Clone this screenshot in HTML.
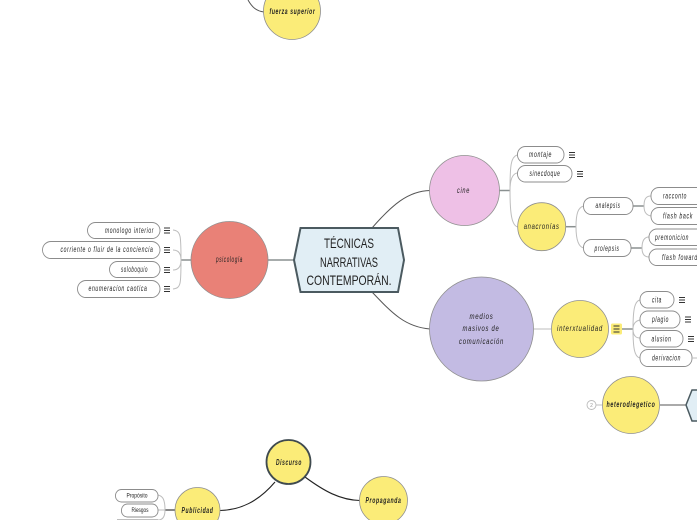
<!DOCTYPE html>
<html lang="es"><head><meta charset="utf-8">
<style>
html,body{margin:0;padding:0;background:#fff;width:697px;height:520px;overflow:hidden}
svg{display:block}
text{font-family:"Liberation Sans",sans-serif;font-style:italic;fill:#222;text-anchor:middle;font-size:8px;letter-spacing:1px}
.p{fill:#fff;stroke:#8c8c8c;stroke-width:.9}
.c{stroke:#8f8f8f;stroke-width:.8}
.l{fill:none;stroke:#bdbdbd;stroke-width:1}
.m{fill:none;stroke:#8a9090;stroke-width:1.5}
.d{fill:none;stroke:#555;stroke-width:1}
.k{fill:none;stroke:#222;stroke-width:1.1}
.h{stroke:#333;stroke-width:.9}
.y{fill:#FBEC78}
</style></head><body>
<svg width="697" height="520" viewBox="0 0 697 520" xmlns="http://www.w3.org/2000/svg">
<!-- connectors -->
<path class="d" d="M372 228C392 205 408 191 430 190.500"/>
<path class="d" d="M372 292C392 313 405 327 430 329"/>
<path class="m" d="M268 260H294"/>
<path class="m" d="M181 260H191"/>
<path class="l" d="M173 230C181 231 181 236 181 260C181 284 181 288 173 289M173 250C179 250 181 254 181 260M173 270C179 270 181 266 181 260"/>
<path class="m" d="M499 190.500H510"/>
<path class="l" d="M517 155C511 157 510 165 510 190.500C510 215 512 226 518 227M517 173C512 174 510 180 510 190.500"/>
<path class="m" d="M565 226.700H576"/>
<path class="l" d="M584 206C578 207 576 214 576 226.700C576 238 578 247 584 248"/>
<path class="m" d="M633 206H644"/><path class="l" d="M651 196C646 196 644 199 644 206C644 212 646 215 651 216"/>
<path class="m" d="M631 248H642"/><path class="l" d="M649 237C644 237 642 241 642 248C642 254 644 257 649 257"/>
<path class="l" d="M534 329H551"/>
<path class="m" d="M622 329H633"/>
<path class="l" d="M640 300C635 301 633 308 633 329C633 350 635 357 640 358M640 320C635 321 633 324 633 329M640 338C635 338 633 335 633 329"/>
<path class="d" d="M660 405H686"/>
<path class="l" d="M596 405H602"/>
<path class="k" d="M275 482C258 502 240 510 220 510.500"/>
<path class="k" d="M305 477C324 491 340 500 360 500.500"/>
<path class="k" d="M165 510H175"/>
<path class="l" d="M158 495C163 496 165 500 165 510M158 510H165M158 520C163 520 165 516 165 510"/>
<path class="d" d="M248 0C252 7 256 11 264 12"/>
<!-- hexagon root -->
<polygon points="294,260 300.500,228 398,228 404,260 398,292 300.500,292" fill="#E1EEF5" stroke="#4b5a60" stroke-width="2"/>
<text x="349" y="248" style="font-size:14px;font-style:normal;letter-spacing:0" textLength="50" lengthAdjust="spacingAndGlyphs">TÉCNICAS</text>
<text x="349" y="267" style="font-size:14px;font-style:normal;letter-spacing:0" textLength="58" lengthAdjust="spacingAndGlyphs">NARRATIVAS</text>
<text x="349" y="285" style="font-size:14px;font-style:normal;letter-spacing:0" textLength="85" lengthAdjust="spacingAndGlyphs">CONTEMPORÁN.</text>
<!-- circles -->
<circle class="c" cx="229.500" cy="260" r="38.500" fill="#E98177"/>
<text x="229.500" y="262" textLength="27" lengthAdjust="spacingAndGlyphs">psicología</text>
<circle class="c" cx="464.500" cy="190.500" r="35" fill="#EEC0E6"/>
<text x="463.500" y="193" textLength="13" lengthAdjust="spacingAndGlyphs">cine</text>
<circle class="c" cx="481.500" cy="329" r="52" fill="#C3BBE3"/>
<text x="481.500" y="319" textLength="24" lengthAdjust="spacingAndGlyphs">medios</text>
<text x="481" y="331" textLength="37" lengthAdjust="spacingAndGlyphs">masivos de</text>
<text x="481.500" y="344" textLength="45" lengthAdjust="spacingAndGlyphs">comunicación</text>
<circle class="c y" cx="541.700" cy="226.700" r="24"/>
<text x="541.700" y="229" textLength="36" lengthAdjust="spacingAndGlyphs">anacronías</text>
<circle class="c y" cx="580" cy="329" r="28.500"/>
<text x="580" y="331" textLength="46" lengthAdjust="spacingAndGlyphs">interxtualidad</text>
<circle class="c y" cx="631" cy="405" r="28.500"/>
<text x="631" y="407" textLength="49" lengthAdjust="spacingAndGlyphs" style="font-weight:bold">heterodiegetico</text>
<circle class="c y" cx="292" cy="11" r="28.500"/>
<text x="292.500" y="14" textLength="46" lengthAdjust="spacingAndGlyphs" style="font-weight:bold">fuerza superior</text>
<circle class="y" cx="288.500" cy="462" r="22" stroke="#3f4a4f" stroke-width="1.800"/>
<text x="289" y="465" textLength="26" lengthAdjust="spacingAndGlyphs" style="font-weight:bold">Discurso</text>
<circle class="c y" cx="383.500" cy="500.500" r="24"/>
<text x="383.500" y="503" textLength="36" lengthAdjust="spacingAndGlyphs" style="font-weight:bold">Propaganda</text>
<circle class="c y" cx="197.500" cy="510" r="22.500"/>
<text x="197.500" y="513" textLength="32" lengthAdjust="spacingAndGlyphs" style="font-weight:bold">Publicidad</text>
<polygon points="686,405 692,390 704,390 704,421 692,421" fill="#E1EEF5" stroke="#4b5a60" stroke-width="1.500"/>
<circle cx="591.500" cy="405" r="4.500" fill="#fff" stroke="#bbb" stroke-width=".9"/>
<text x="591.500" y="407" style="font-size:5px;font-style:normal;fill:#999;letter-spacing:0">2</text>
<!-- left pills -->
<rect class="p" x="87.500" y="222.500" width="72.500" height="16" rx="8"/><text x="129.500" y="233" textLength="49" lengthAdjust="spacingAndGlyphs">monologo interior</text>
<rect class="p" x="42.500" y="241.500" width="117.500" height="17" rx="8.500"/><text x="107" y="252" textLength="93" lengthAdjust="spacingAndGlyphs">corriente o fluir de la conciencia</text>
<rect class="p" x="109.500" y="261.500" width="50.500" height="16" rx="8"/><text x="134.500" y="272" textLength="27" lengthAdjust="spacingAndGlyphs">soloboquio</text>
<rect class="p" x="77.500" y="280.500" width="82.500" height="17" rx="8.500"/><text x="118" y="291" textLength="59" lengthAdjust="spacingAndGlyphs">enumeracion caotica</text>
<!-- cine pills -->
<rect class="p" x="517.500" y="146.500" width="46.500" height="16.500" rx="8"/><text x="540.500" y="157" textLength="23" lengthAdjust="spacingAndGlyphs">montaje</text>
<rect class="p" x="517.500" y="165.500" width="54.500" height="16.500" rx="8"/><text x="545" y="176" textLength="31" lengthAdjust="spacingAndGlyphs">sinecdoque</text>
<rect class="p" x="583.500" y="197.500" width="49.500" height="17" rx="8"/><text x="608" y="208" textLength="25" lengthAdjust="spacingAndGlyphs">analepsis</text>
<rect class="p" x="583.500" y="239.500" width="47.500" height="17" rx="8"/><text x="607" y="251" textLength="25" lengthAdjust="spacingAndGlyphs">prolepsis</text>
<rect class="p" x="651" y="187.500" width="60" height="17" rx="8"/><text x="675" y="198.500" textLength="24" lengthAdjust="spacingAndGlyphs">racconto</text>
<rect class="p" x="651" y="207.500" width="60" height="17" rx="8"/><text x="678" y="218.500" textLength="30" lengthAdjust="spacingAndGlyphs">flash back</text>
<rect class="p" x="649" y="229" width="60" height="16.500" rx="8"/><text x="672" y="240" textLength="34" lengthAdjust="spacingAndGlyphs">premonicion</text>
<rect class="p" x="649" y="249" width="60" height="16.500" rx="8"/><text x="680" y="260" textLength="36" lengthAdjust="spacingAndGlyphs">flash foward</text>
<!-- intertext pills -->
<rect class="p" x="640" y="291.500" width="34" height="16.500" rx="8"/><text x="657" y="302.500" textLength="10" lengthAdjust="spacingAndGlyphs">cita</text>
<rect class="p" x="640" y="311" width="40" height="17" rx="8"/><text x="660.500" y="322" textLength="17" lengthAdjust="spacingAndGlyphs">plagio</text>
<rect class="p" x="640" y="330.500" width="43" height="16.500" rx="8"/><text x="661.500" y="341.500" textLength="20" lengthAdjust="spacingAndGlyphs">alusion</text>
<rect class="p" x="640" y="349.500" width="52" height="17" rx="8"/><text x="666.500" y="360.500" textLength="29" lengthAdjust="spacingAndGlyphs">derivacion</text>
<path class="l" d="M692 358H697"/>
<!-- publicidad pills -->
<rect class="p" x="115.500" y="489.500" width="42.500" height="12.500" rx="6"/><text x="137" y="497.500" style="font-size:6.500px;font-style:normal;letter-spacing:0" textLength="21" lengthAdjust="spacingAndGlyphs">Propósito</text>
<rect class="p" x="121.500" y="504" width="36.500" height="13" rx="6"/><text x="140" y="512" style="font-size:6.500px;font-style:normal;letter-spacing:0" textLength="17" lengthAdjust="spacingAndGlyphs">Riesgos</text>
<path d="M117 519.500H158" fill="none" stroke="#a8a8a8" stroke-width=".8"/>
<!-- hamburger icons -->
<g class="h">
<path d="M164 228H170M164 230.500H170M164 233H170"/>
<path d="M164 247.500H170M164 250H170M164 252.500H170"/>
<path d="M164 267.500H170M164 270H170M164 272.500H170"/>
<path d="M164 286.500H170M164 289H170M164 291.500H170"/>
<path d="M569 152.500H575M569 155H575M569 157.500H575"/>
<path d="M577 171.500H583M577 174H583M577 176.500H583"/>
<path d="M679 297.500H685M679 300H685M679 302.500H685"/>
<path d="M685 317H691M685 319.500H691M685 322H691"/>
<path d="M688 336.500H694M688 339H694M688 341.500H694"/>
</g>
<rect x="611" y="323.500" width="11" height="11" rx="1.500" fill="#FBEC78"/>
<path class="h" d="M613.500 326H619.500M613.500 329H619.500M613.500 332H619.500"/>
</svg>
</body></html>
